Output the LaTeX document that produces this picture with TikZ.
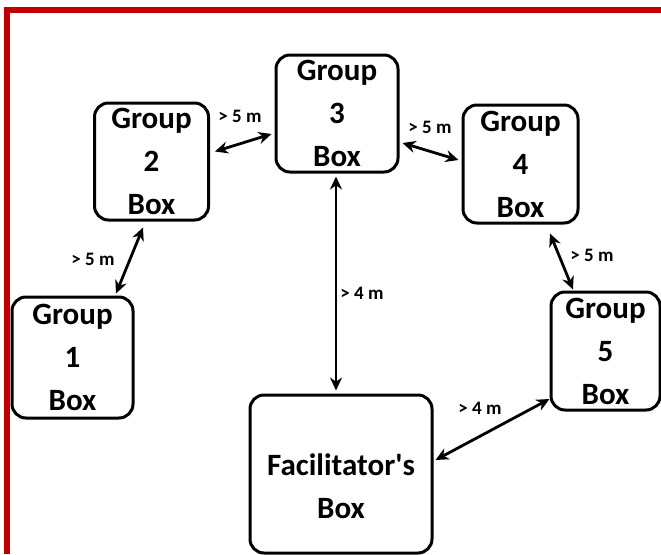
\documentclass[tikz,border=0pt]{standalone}
\usepackage{fontspec}
\setmainfont{Carlito}
\usetikzlibrary{arrows.meta}
\definecolor{frame}{HTML}{C00000}
\tikzset{
  grpbox/.style={draw=black, line width=3pt, rounded corners=14pt, inner sep=0pt,
    align=center, font=\fontsize{31}{43}\selectfont\bfseries},
  dist/.style={font=\fontsize{19}{21}\selectfont\bfseries, inner sep=0pt},
  arr/.style={line width=2.8pt, {Stealth[length=13pt,width=12pt]}-{Stealth[length=13pt,width=12pt]}}
}
\begin{document}
\begin{tikzpicture}[x=1pt,y=-1pt]
\useasboundingbox (0,0) rectangle (661,554);
% red frame
\draw[frame, line width=6pt] (6.5,554) -- (6.5,10) -- (661,10);
% boxes
\node[grpbox, minimum width=121pt, minimum height=121pt] (g1) at (72.5,357.5) {Group\\1\\Box};
\node[grpbox, minimum width=114pt, minimum height=117pt] (g2) at (151.5,161.5) {Group\\2\\Box};
\node[grpbox, minimum width=122pt, minimum height=117pt] (g3) at (337,113.5) {Group\\3\\Box};
\node[grpbox, minimum width=115pt, minimum height=118pt] (g4) at (520.5,164) {Group\\4\\Box};
\node[grpbox, minimum width=109pt, minimum height=118pt] (g5) at (605.5,351) {Group\\5\\Box};
\node[grpbox, minimum width=182pt, minimum height=158pt] (fac) at (341,474) {\rule{0pt}{46pt}Facilitator\textquotesingle s\\Box};
% connectors
\draw[arr] ([shift={(5,-10)}]g2.east) -- ([shift={(-3,20.5)}]g3.west);
\draw[arr] ([shift={(3,29.5)}]g3.east) -- ([shift={(-3,-4)}]g4.west);
\draw[arr] ([shift={(-1,3)}]g3.south) -- ([shift={(-5,-3)}]fac.north);
\draw[arr] ([shift={(43.5,-2)}]g1.north) -- ([shift={(-8.5,6)}]g2.south);
\draw[arr] ([shift={(29.5,9)}]g4.south) -- ([shift={(-32.5,-1)}]g5.north);
\draw[arr] ([shift={(2,-14)}]fac.east) -- ([shift={(0,48)}]g5.west);
% labels
\node[dist] (l23) at (240,116) {> 5 m};
\node[dist] (l34) at (430,127) {> 5 m};
\node[dist] (l12) at (93,259) {> 5 m};
\node[dist] (l45) at (592,255) {> 5 m};
\node[dist] (l3f) at (362,293) {> 4 m};
\node[dist] (lf5) at (480,408) {> 4 m};
\end{tikzpicture}
\end{document}
